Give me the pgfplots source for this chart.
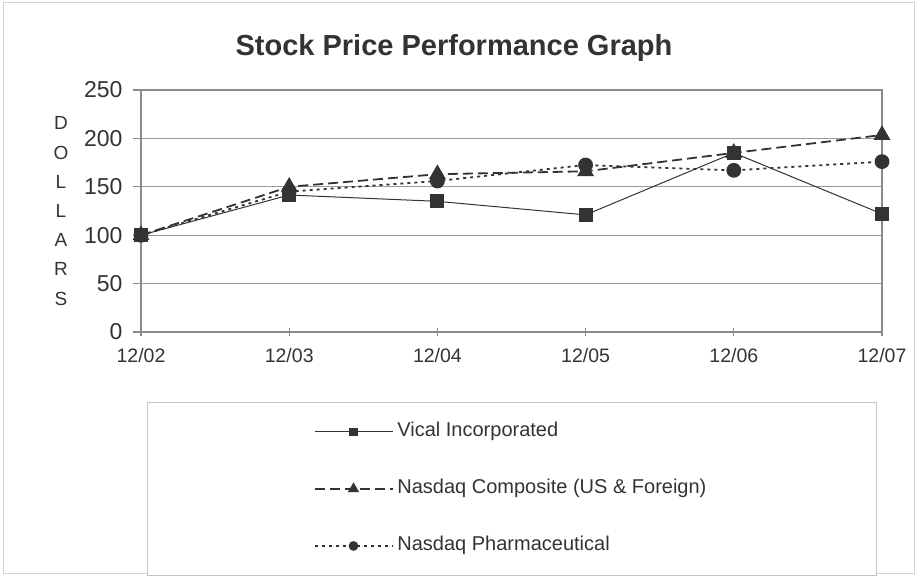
\documentclass[border=0pt]{standalone}
\usepackage{fontspec}
\setmainfont{Liberation Sans}
\usepackage{pgfplots}
\pgfplotsset{compat=1.18}
\definecolor{ink}{HTML}{333333}
\definecolor{gridc}{HTML}{9A9A9A}
\definecolor{framec}{HTML}{8A8A8A}

\begin{document}
\begin{tikzpicture}[x=1pt,y=1pt]
\useasboundingbox (0,0) rectangle (917,577);
\draw[gray!35, line width=1pt] (3,3) rectangle (914,574);
\node[font=\bfseries\fontsize{29}{34}\selectfont, text=ink, anchor=base] at (454,521) {Stock Price Performance Graph};
\begin{axis}[
    at={(141pt,245pt)}, anchor=south west,
    scale only axis, width=741pt, height=242pt,
    xmin=0, xmax=5, ymin=0, ymax=250,
    xtick={0,...,5},
    xticklabels={12/02,12/03,12/04,12/05,12/06,12/07},
    ytick={0,50,...,250},
    xtick pos=bottom, ytick pos=left,
    ymajorgrids,
    grid style={gridc, line width=1.3pt},
    axis line style={framec, line width=1.2pt},
    tick style={framec, line width=1.2pt},
    tick align=outside,
    major tick length=8pt,
    xtick style={yshift=4pt},
    /pgf/number format/assume math mode=true,
    yticklabel style={font=\fontsize{23}{27}\selectfont, text=ink, xshift=-7pt},
    xticklabel style={font=\fontsize{19.5}{24}\selectfont, text=ink, yshift=-5pt},
    ylabel={D\\O\\L\\L\\A\\R\\S},
    ylabel style={rotate=-90, at={(axis description cs:-0.108,0.5)}, anchor=center,
        align=center, font=\fontsize{19}{29.2}\selectfont, text=ink},
    legend image code/.code={
        \draw[mark repeat=2, mark phase=2, #1, every mark/.append style={scale=0.6}]
            plot coordinates {(0pt,0pt) (39pt,0pt) (78pt,0pt)};
    },
    legend style={at={(axis description cs:0.5007,-0.289)}, anchor=north,
        draw=gray!45, line width=1pt, inner xsep=166.5pt, inner ysep=19.5pt,
        font=\fontsize{20}{24}\selectfont, text=ink, row sep=37pt,
        nodes={inner xsep=4pt, inner ysep=0pt, text height=15pt, text depth=5pt}},
    legend cell align=left,
]
\addplot[ink, line width=1pt, mark=square*, mark size=6.5pt, mark options={solid}]
    coordinates {(0,100) (1,141.5) (2,135) (3,121) (4,185) (5,122)};
\addlegendentry{Vical Incorporated}
\addplot[ink, line width=1.8pt, dash pattern=on 10pt off 5pt, mark=triangle*, mark size=8pt, mark options={solid}]
    coordinates {(0,100) (1,150) (2,163) (3,166) (4,185) (5,203.5)};
\addlegendentry{Nasdaq Composite (US \& Foreign)}
\addplot[ink, line width=1.8pt, dash pattern=on 3pt off 4pt, mark=*, mark size=6.5pt, mark options={solid}]
    coordinates {(0,100) (1,145) (2,156) (3,172.5) (4,167) (5,176)};
\addlegendentry{Nasdaq Pharmaceutical}
\end{axis}
\end{tikzpicture}
\end{document}
